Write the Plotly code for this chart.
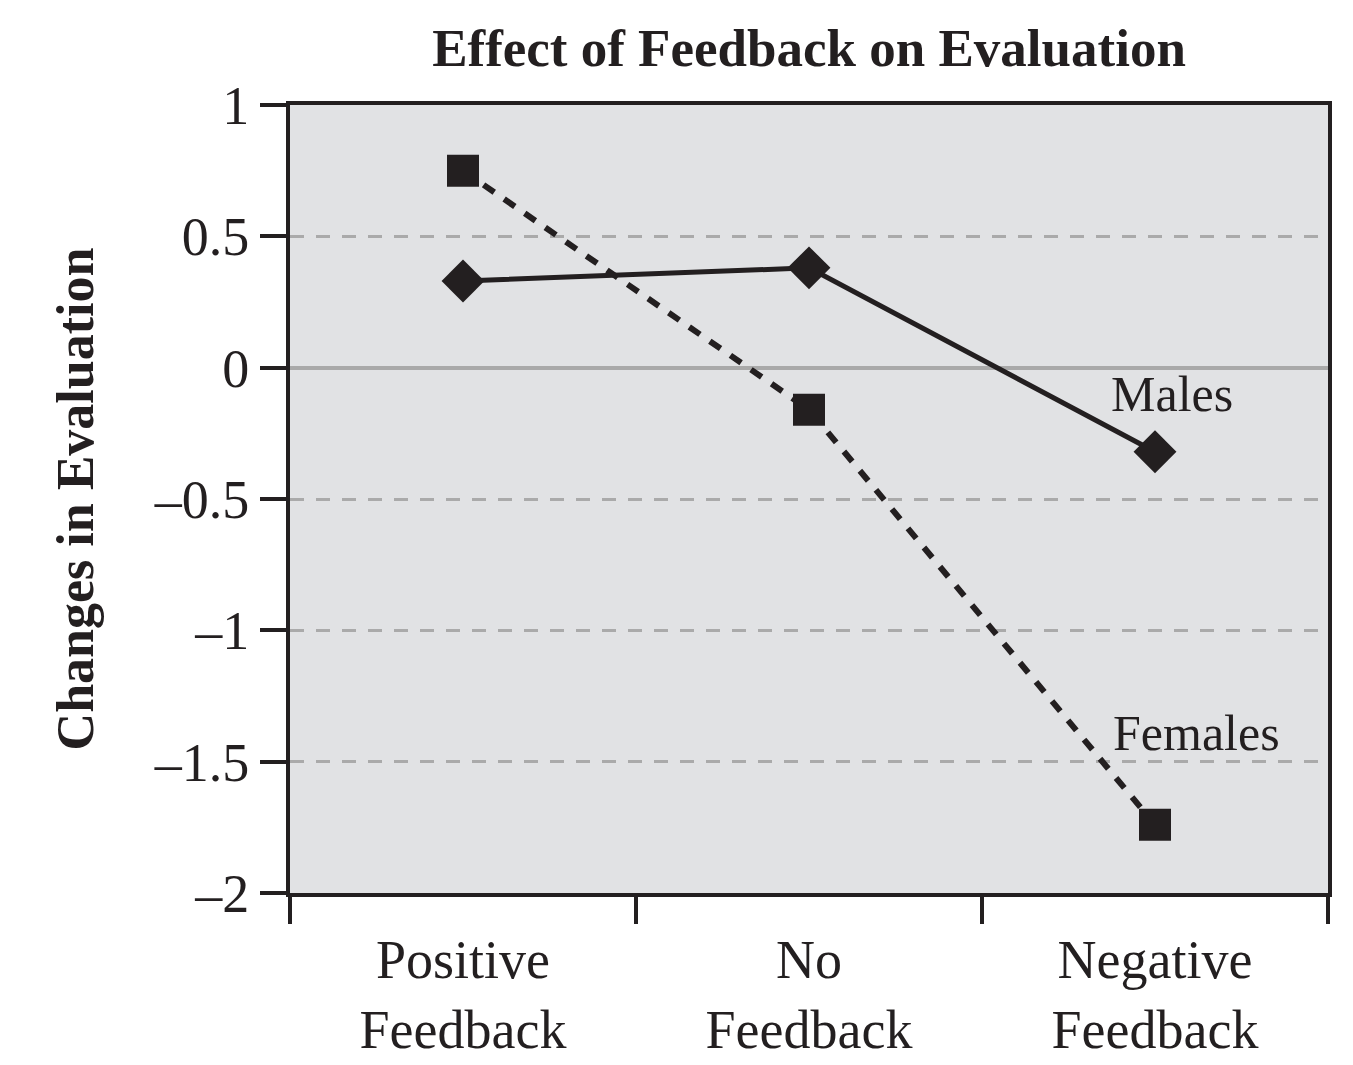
import plotly.graph_objects as go

categories = ["Positive<br>Feedback", "No<br>Feedback", "Negative<br>Feedback"]
males = [0.33, 0.38, -0.32]
females = [0.75, -0.16, -1.74]
y_tickvals = [1, 0.5, 0, -0.5, -1, -1.5, -2]
y_ticktext = ["1", "0.5", "0", "–0.5", "–1", "–1.5", "–2"]

INK = "#231f20"
FONT = "Liberation Serif"

fig = go.Figure()
fig.add_trace(go.Scatter(
    x=categories, y=females, mode="lines+markers", name="Females",
    line=dict(color=INK, width=6, dash="13px,12px"),
    marker=dict(symbol="square", size=32, color=INK),
))
fig.add_trace(go.Scatter(
    x=categories, y=males, mode="lines+markers", name="Males",
    line=dict(color=INK, width=5),
    marker=dict(symbol="diamond", size=33, color=INK),
))

fig.add_annotation(x=2.05, y=-0.10, xref="x", yref="y", text="Males", showarrow=False,
                   font=dict(family=FONT, size=50, color=INK))
fig.add_annotation(x=2.12, y=-1.39, xref="x", yref="y", text="Females", showarrow=False,
                   font=dict(family=FONT, size=50, color=INK))

fig.update_layout(
    width=1353, height=1065,
    margin=dict(l=290, r=25, t=105, b=172),
    paper_bgcolor="white", plot_bgcolor="#e1e2e4",
    showlegend=False,
    font=dict(family=FONT, color=INK),
    title=dict(text="<b>Effect of Feedback on Evaluation</b>", x=0.5, xref="paper",
               y=1 - 47 / 1065, yanchor="middle",
               font=dict(family=FONT, size=53, color=INK)),
)
fig.update_xaxes(
    type="category", range=[-0.5, 2.5], tickson="boundaries", automargin=False,
    ticks="outside", ticklen=27, tickwidth=4, tickcolor=INK,
    showline=True, linewidth=4, linecolor=INK, mirror=True,
    showgrid=False, zeroline=False, ticklabelstandoff=16,
    tickfont=dict(family=FONT, size=54, color=INK),
)
fig.update_yaxes(
    range=[-2, 1], tickvals=y_tickvals, ticktext=y_ticktext, automargin=False,
    ticks="outside", ticklen=26, tickwidth=4, tickcolor=INK,
    showline=True, linewidth=4, linecolor=INK, mirror=True,
    showgrid=True, gridcolor="#aaaaaa", gridwidth=3, griddash="14px,12px",
    zeroline=True, zerolinecolor="#a9a9a9", zerolinewidth=4,
    tickfont=dict(family=FONT, size=54, color=INK),
    title=dict(text="<b>Changes in Evaluation</b>", standoff=45,
               font=dict(family=FONT, size=52, color=INK)),
)

fig.write_html("out.html")
